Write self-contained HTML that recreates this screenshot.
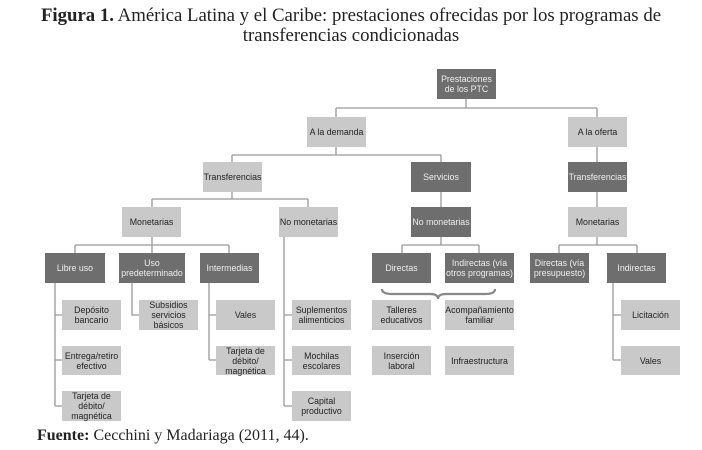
<!DOCTYPE html>
<html><head><meta charset="utf-8"><style>
body{margin:0;width:702px;height:450px;background:#fff;position:relative;overflow:hidden;font-family:"Liberation Sans",sans-serif}
.t{position:absolute;left:0;width:702px;text-align:center;font-family:"Liberation Serif",serif;font-size:18.8px;color:#222;white-space:nowrap}
.b{position:absolute;display:flex;align-items:center;justify-content:center;text-align:center;font-size:8.8px;line-height:10px;color:#222;background:#c9c9c9;box-sizing:border-box}
.d{background:#6e6e6e;color:#eee}
svg{position:absolute;left:0;top:0}
</style></head><body>
<div class="t" style="top:5px"><b>Figura 1.</b> América Latina y el Caribe: prestaciones ofrecidas por los programas de</div>
<div class="t" style="top:25px">transferencias condicionadas</div>
<svg width="702" height="450" fill="none" stroke="#999" stroke-width="1.3">
<path d="M466 99V108M336 108H597M336 108V117M597 108V117"/>
<path d="M336 147V155M232 155H441M232 155V162M441 155V162"/>
<path d="M597 147V162M597 192V207M441 192V207"/>
<path d="M232 192V199M152 199H308M152 199V207M308 199V207"/>
<path d="M152 237V245M75 245H229M75 245V253M152 245V253M229 245V253"/>
<path d="M441 237V245M402 245H479M402 245V253M479 245V253"/>
<path d="M597 237V245M559 245H637M559 245V253M637 245V253"/>
<path d="M55 283V406M55 315H62M55 360H62M55 406H62"/>
<path d="M132 283V315H139"/>
<path d="M209 283V360M209 315H216M209 360H216"/>
<path d="M284 237V406M284 315H292M284 360H292M284 406H292"/>
<path d="M613 283V360M613 315H621M613 360H621"/>
<path d="M382 289Q382 294 392 294H430Q438 294 438 299Q438 294 446 294H485Q495 294 495 289" stroke="#888" stroke-width="2.2"/>
</svg>
<div class="b d" style="left:437px;top:69px;width:59px;height:30px">Prestaciones<br>de los PTC</div>
<div class="b" style="left:307px;top:117px;width:59px;height:30px">A la demanda</div>
<div class="b" style="left:568px;top:117px;width:59px;height:30px">A la oferta</div>
<div class="b" style="left:203px;top:162px;width:59px;height:30px">Transferencias</div>
<div class="b d" style="left:411px;top:162px;width:60px;height:30px">Servicios</div>
<div class="b d" style="left:568px;top:162px;width:59px;height:30px">Transferencias</div>
<div class="b" style="left:122px;top:207px;width:59px;height:30px">Monetarias</div>
<div class="b" style="left:279px;top:207px;width:59px;height:30px">No monetarias</div>
<div class="b d" style="left:411px;top:207px;width:60px;height:30px">No monetarias</div>
<div class="b" style="left:568px;top:207px;width:59px;height:30px">Monetarias</div>
<div class="b d" style="left:45px;top:253px;width:60px;height:30px">Libre uso</div>
<div class="b d" style="left:119px;top:253px;width:66px;height:30px">Uso<br>predeterminado</div>
<div class="b d" style="left:200px;top:253px;width:59px;height:30px">Intermedias</div>
<div class="b d" style="left:372px;top:253px;width:59px;height:30px">Directas</div>
<div class="b d" style="left:445px;top:253px;width:69px;height:30px">Indirectas (vía<br>otros programas)</div>
<div class="b d" style="left:530px;top:253px;width:59px;height:30px">Directas (vía<br>presupuesto)</div>
<div class="b d" style="left:607px;top:253px;width:59px;height:30px">Indirectas</div>
<div class="b" style="left:62px;top:300px;width:59px;height:30px">Depósito<br>bancario</div>
<div class="b" style="left:62px;top:346px;width:59px;height:29px">Entrega/retiro<br>efectivo</div>
<div class="b" style="left:62px;top:391px;width:59px;height:30px">Tarjeta de<br>débito/<br>magnética</div>
<div class="b" style="left:139px;top:300px;width:59px;height:30px">Subsidios<br>servicios<br>básicos</div>
<div class="b" style="left:216px;top:300px;width:59px;height:30px">Vales</div>
<div class="b" style="left:216px;top:346px;width:59px;height:29px">Tarjeta de<br>débito/<br>magnética</div>
<div class="b" style="left:292px;top:300px;width:59px;height:30px">Suplementos<br>alimenticios</div>
<div class="b" style="left:292px;top:346px;width:59px;height:29px">Mochilas<br>escolares</div>
<div class="b" style="left:292px;top:391px;width:59px;height:30px">Capital<br>productivo</div>
<div class="b" style="left:372px;top:300px;width:59px;height:30px">Talleres<br>educativos</div>
<div class="b" style="left:445px;top:300px;width:69px;height:30px">Acompañamiento<br>familiar</div>
<div class="b" style="left:372px;top:346px;width:59px;height:29px">Inserción<br>laboral</div>
<div class="b" style="left:445px;top:346px;width:69px;height:29px">Infraestructura</div>
<div class="b" style="left:621px;top:300px;width:59px;height:30px">Licitación</div>
<div class="b" style="left:621px;top:346px;width:59px;height:29px">Vales</div>
<div style="position:absolute;left:37px;top:427px;font-family:'Liberation Serif',serif;font-size:16px;color:#222"><b>Fuente:</b> Cecchini y Madariaga (2011, 44).</div>
</body></html>
